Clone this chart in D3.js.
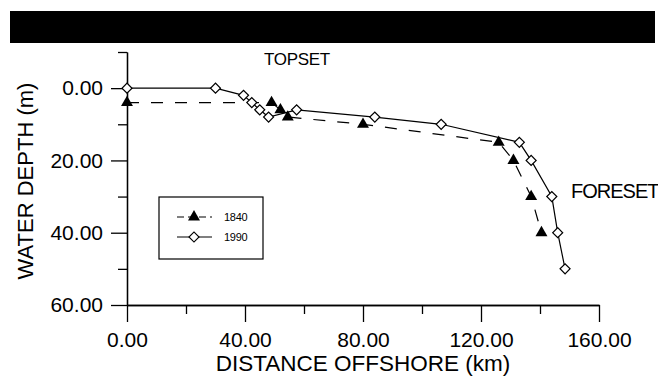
<!DOCTYPE html>
<html>
<head>
<meta charset="utf-8">
<script src="https://cdn.jsdelivr.net/npm/d3@7"></script>
<style>
  body { margin: 0; background: #fff; }
  svg { display: block; font-family: "Liberation Sans", Arial, sans-serif; }
</style>
</head>
<body>
<div id="chart"></div>
<script>
// profile data (km offshore, m depth)
const distance1840 = [0, 49, 52, 54.5, 80, 126, 131, 137, 140.5];
const depth1840 = [4, 4, 6, 8, 10, 15, 20, 30, 40];
const distance1990 = [0, 30, 39.5, 42.3, 45, 48, 57.5, 84, 106.5, 133, 137, 144, 146, 148.5];
const depth1990 = [0, 0, 2, 4, 6, 8, 6, 8, 10, 15, 20, 30, 40, 50];

const xMajorTicks = [0, 40, 80, 120, 160];
const xMinorTicks = [20, 60, 100, 140];
const yMajorTicks = [0, 20, 40, 60];
const yMinorTicks = [-10, 10, 30, 50];
const seriesNames = ["1840", "1990"];
const zoneLabels = ["TOPSET", "FORESET"];

const width = 658;
const height = 376;

const svg = d3.select("#chart").append("svg")
    .attr("width", width)
    .attr("height", height);

// black band across the top
svg.append("rect")
    .attr("x", 10).attr("y", 11)
    .attr("width", 645).attr("height", 32)
    .attr("fill", "#000");

const x = d3.scaleLinear().domain([0, 160]).range([127, 599]);
const y = d3.scaleLinear().domain([-10, 60]).range([52, 305]);

const fmt = d3.format(".2f");

// x axis: long labelled ticks + short minor ticks
const gx = svg.append("g")
    .attr("transform", `translate(0,${y(60)})`)
    .call(d3.axisBottom(x).tickValues(xMajorTicks).tickSize(17).tickSizeOuter(0).tickFormat(fmt));
gx.selectAll("text")
    .attr("font-size", 21)
    .attr("fill", "#000")
    .attr("dy", 0)
    .attr("y", 42);
svg.append("g")
    .attr("transform", `translate(0,${y(60)})`)
    .call(d3.axisBottom(x).tickValues(xMinorTicks).tickSize(9).tickSizeOuter(0).tickFormat(""));

const gy = svg.append("g")
    .attr("transform", `translate(${x(0)},0)`)
    .call(d3.axisLeft(y).tickValues(yMajorTicks).tickSize(16).tickSizeOuter(0).tickFormat(fmt));
gy.selectAll("text")
    .attr("font-size", 21)
    .attr("fill", "#000")
    .attr("x", -24);
svg.append("g")
    .attr("transform", `translate(${x(0)},0)`)
    .call(d3.axisLeft(y).tickValues(yMinorTicks).tickSize(9).tickSizeOuter(0).tickFormat(""));

svg.selectAll(".domain, .tick line")
    .attr("stroke", "#000")
    .attr("stroke-width", 1.3);

// axis titles
svg.append("text")
    .attr("x", (x(0) + x(160)) / 2)
    .attr("y", 371)
    .attr("text-anchor", "middle")
    .attr("font-size", 22.5)
    .text("DISTANCE OFFSHORE (km)");

svg.append("text")
    .attr("transform", "translate(33,181) rotate(-90)")
    .attr("text-anchor", "middle")
    .attr("font-size", 22)
    .text("WATER DEPTH (m)");

const pts1840 = distance1840.map((d, i) => [d, depth1840[i]]);
const pts1990 = distance1990.map((d, i) => [d, depth1990[i]]);

const line = d3.line().x(d => x(d[0])).y(d => y(d[1]));

svg.append("path")
    .datum(pts1840)
    .attr("d", line)
    .attr("fill", "none")
    .attr("stroke", "#000")
    .attr("stroke-width", 1.2)
    .attr("stroke-dasharray", "12,12");

svg.append("path")
    .datum(pts1990)
    .attr("d", line)
    .attr("fill", "none")
    .attr("stroke", "#000")
    .attr("stroke-width", 1.2);

const triangle = d3.symbol().type(d3.symbolTriangle).size(62);
const diamond = d3.symbol().type(d3.symbolSquare).size(50);

svg.append("g")
  .selectAll("path")
  .data(pts1990)
  .join("path")
    .attr("transform", d => `translate(${x(d[0])},${y(d[1])}) rotate(45)`)
    .attr("d", diamond)
    .attr("fill", "#fff")
    .attr("stroke", "#000")
    .attr("stroke-width", 1.2);

svg.append("g")
  .selectAll("path")
  .data(pts1840)
  .join("path")
    .attr("transform", d => `translate(${x(d[0])},${y(d[1])})`)
    .attr("d", triangle)
    .attr("fill", "#000");

// zone labels
svg.append("text")
    .attr("x", 297).attr("y", 65)
    .attr("text-anchor", "middle")
    .attr("font-size", 17)
    .attr("letter-spacing", -0.3)
    .text(zoneLabels[0]);

svg.append("text")
    .attr("x", 571).attr("y", 198)
    .attr("font-size", 20)
    .attr("letter-spacing", -1)
    .text(zoneLabels[1]);

// legend
const legend = svg.append("g").attr("transform", "translate(159,197)");
legend.append("rect")
    .attr("width", 104).attr("height", 62)
    .attr("fill", "#fff")
    .attr("stroke", "#000")
    .attr("stroke-width", 1.2);

const rows = legend.selectAll("g.row")
  .data(seriesNames)
  .join("g")
    .attr("class", "row")
    .attr("transform", (d, i) => `translate(0,${20 + i * 20})`);

rows.append("line")
    .attr("x1", 18).attr("x2", 53)
    .attr("stroke", "#000")
    .attr("stroke-width", 1.2)
    .attr("stroke-dasharray", (d, i) => i === 0 ? "7,4" : null);

rows.append("path")
    .attr("transform", (d, i) => i === 0 ? "translate(35,0)" : "translate(35,0) rotate(45)")
    .attr("d", (d, i) => i === 0 ? triangle() : diamond())
    .attr("fill", (d, i) => i === 0 ? "#000" : "#fff")
    .attr("stroke", (d, i) => i === 0 ? "none" : "#000")
    .attr("stroke-width", 1.2);

rows.append("text")
    .attr("x", 65).attr("y", 4)
    .attr("font-size", 11)
    .attr("letter-spacing", -0.3)
    .text(d => d);
</script>
</body>
</html>
